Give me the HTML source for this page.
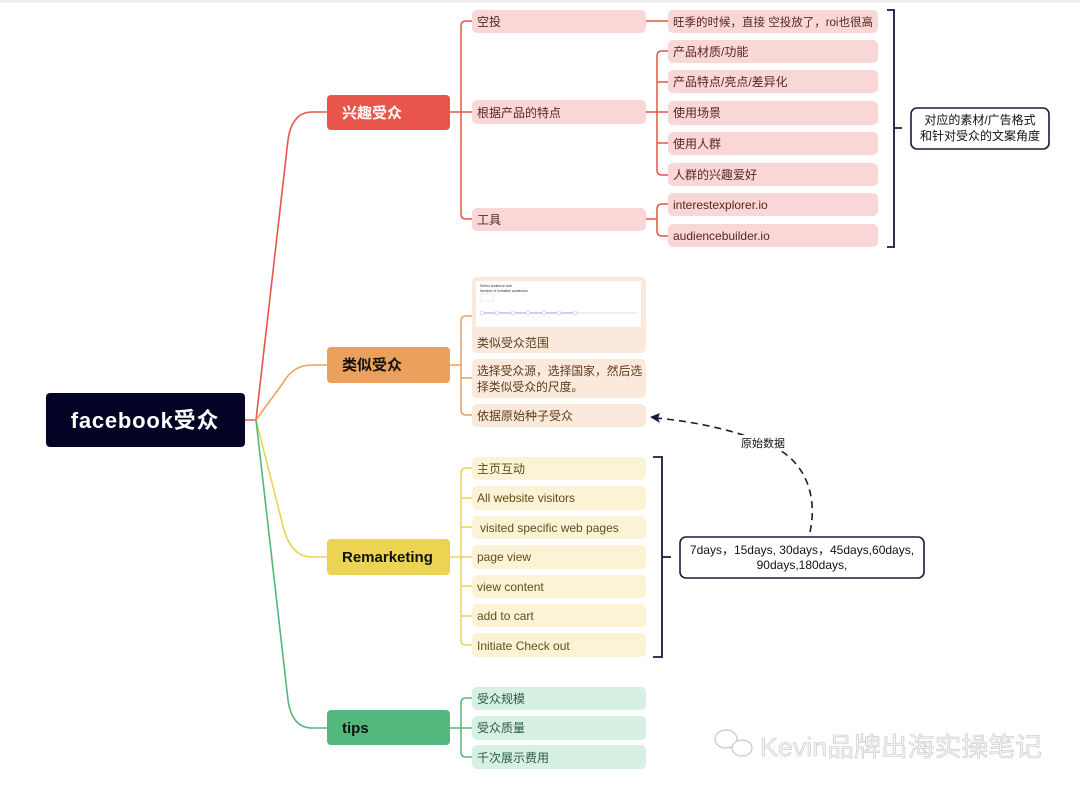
<!DOCTYPE html>
<html><head><meta charset="utf-8"><style>
html,body{margin:0;padding:0;background:#fff;}
svg{display:block;}
text{font-family:"Liberation Sans","Noto Sans CJK SC",sans-serif;}
</style></head><body>
<svg width="1080" height="794" viewBox="0 0 1080 794" xmlns="http://www.w3.org/2000/svg">
<rect x="0" y="0" width="1080" height="3" fill="#eeeeee"/>
<g fill="none" stroke-width="1.6">
<path d="M245,420 H256 L288,140 Q292,112 312,112 H327" stroke="#e8554a"/>
<path d="M256,420 L283,383 Q293,365 312,365 H327" stroke="#eba15c"/>
<path d="M256,420 L284,530 Q292,557 312,557 H327" stroke="#ecd452"/>
<path d="M256,420 L288,700 Q292,728 312,728 H327" stroke="#52b87c"/>
</g>
<rect x="46" y="393" width="199" height="54" rx="4" fill="#020325"/>
<text x="145" y="428" font-size="22" fill="#fff" text-anchor="middle" font-weight="bold" letter-spacing="0.8">facebook受众</text>
<rect x="327" y="95" width="123" height="35" rx="4" fill="#e8554a"/>
<text x="342" y="118" font-size="15" fill="#fff" font-weight="bold">兴趣受众</text>
<rect x="327" y="347" width="123" height="36" rx="4" fill="#eba15c"/>
<text x="342" y="370" font-size="15" fill="#111" font-weight="bold">类似受众</text>
<rect x="327" y="539" width="123" height="36" rx="4" fill="#ecd452"/>
<text x="342" y="562" font-size="15" fill="#111" font-weight="bold">Remarketing</text>
<rect x="327" y="710" width="123" height="35" rx="4" fill="#52b87c"/>
<text x="342" y="733" font-size="15" fill="#111" font-weight="bold">tips</text>

<g fill="none" stroke="#e8554a" stroke-width="1.5">
<path d="M450,112 H461"/>
<path d="M472,21 H466 Q461,21 461,26 V214 Q461,219 466,219 H472"/>
<path d="M461,112 H472"/>
<path d="M646,21 H668"/>
<path d="M668,51 H662 Q657,51 657,56 V170 Q657,175 662,175 H668"/>
<path d="M646,112 H668 M657,82 H668 M657,143 H668"/>
<path d="M646,219 H657 M668,204 H662 Q657,204 657,209 V231 Q657,236 662,236 H668"/>
</g>
<g fill="#f8d7d6">
<rect x="472" y="10" width="174" height="23" rx="5"/>
<rect x="472" y="100" width="174" height="24" rx="5"/>
<rect x="472" y="208" width="174" height="23" rx="5"/>
<rect x="668" y="10" width="210" height="23" rx="5"/>
<rect x="668" y="40" width="210" height="23" rx="5"/>
<rect x="668" y="70" width="210" height="23" rx="5"/>
<rect x="668" y="101" width="210" height="24" rx="5"/>
<rect x="668" y="132" width="210" height="23" rx="5"/>
<rect x="668" y="163" width="210" height="23" rx="5"/>
<rect x="668" y="193" width="210" height="23" rx="5"/>
<rect x="668" y="224" width="210" height="23" rx="5"/>
</g>
<g font-size="12" fill="#5a2424">
<text x="477" y="26">空投</text>
<text x="477" y="117">根据产品的特点</text>
<text x="477" y="224">工具</text>
<text x="673" y="26" font-size="11.5">旺季的时候，直接 空投放了，roi也很高</text>
<text x="673" y="56">产品材质/功能</text>
<text x="673" y="86">产品特点/亮点/差异化</text>
<text x="673" y="117">使用场景</text>
<text x="673" y="148">使用人群</text>
<text x="673" y="179">人群的兴趣爱好</text>
<text x="673" y="209">interestexplorer.io</text>
<text x="673" y="240">audiencebuilder.io</text>
</g>
<path d="M887,10 H894 V247 H887 M894,128 H902" fill="none" stroke="#1a1a3a" stroke-width="1.8"/>
<rect x="911" y="108" width="138" height="41" rx="6" fill="#fff" stroke="#1a1a3a" stroke-width="1.6"/>
<text x="980" y="124" font-size="12" fill="#111" text-anchor="middle">对应的素材/广告格式</text>
<text x="980" y="140" font-size="12" fill="#111" text-anchor="middle">和针对受众的文案角度</text>

<g fill="none" stroke="#eba15c" stroke-width="1.5">
<path d="M450,365 H461"/>
<path d="M472,316 H466 Q461,316 461,321 V410 Q461,415 466,415 H472"/>
<path d="M461,378 H472"/>
</g>
<g fill="#fbeadb">
<rect x="472" y="277" width="174" height="76" rx="5"/>
<rect x="472" y="359" width="174" height="39" rx="5"/>
<rect x="472" y="404" width="174" height="23" rx="5"/>
</g>
<rect x="476" y="281" width="165" height="46" fill="#fff"/>
<text x="480" y="287" font-size="3.5" fill="#333">Select audience size</text>
<text x="480" y="292" font-size="3.5" fill="#333">Number of lookalike audiences</text>
<rect x="480" y="294" width="13" height="7" fill="#fff" stroke="#ddd" stroke-width="0.5"/>
<line x1="482" y1="313" x2="575" y2="313" stroke="#8fa6e8" stroke-width="1"/>
<line x1="575" y1="313" x2="637" y2="313" stroke="#ddd" stroke-width="1"/>
<g fill="#fff" stroke="#bbb" stroke-width="0.6">
<circle cx="482" cy="313" r="2"/><circle cx="497" cy="313" r="2"/><circle cx="513" cy="313" r="2"/><circle cx="528" cy="313" r="2"/><circle cx="544" cy="313" r="2"/><circle cx="559" cy="313" r="2"/><circle cx="575" cy="313" r="2"/>
</g>
<g font-size="12" fill="#5a3a1e">
<text x="477" y="347">类似受众范围</text>
<text x="477" y="375" font-size="11.8">选择受众源，选择国家，然后选</text>
<text x="477" y="391" font-size="11.8">择类似受众的尺度。</text>
<text x="477" y="420">依据原始种子受众</text>
</g>

<path d="M810,532 C818,495 805,460 770,445 C740,432 700,422 656,418" fill="none" stroke="#1a1a3a" stroke-width="1.6" stroke-dasharray="7,5"/>
<path d="M650,417 L660,413 L658,418 L660,423 Z" fill="#1a1a3a"/>
<rect x="740" y="435" width="46" height="16" fill="#fff"/>
<text x="763" y="447" font-size="11" fill="#111" text-anchor="middle">原始数据</text>

<g fill="none" stroke="#ecd452" stroke-width="1.5">
<path d="M450,557 H461"/>
<path d="M472,468 H466 Q461,468 461,473 V640 Q461,645 466,645 H472"/>
<path d="M461,498 H472 M461,527 H472 M461,557 H472 M461,586 H472 M461,616 H472"/>
</g>
<g fill="#fcf3d6">
<rect x="472" y="457" width="174" height="23" rx="5"/>
<rect x="472" y="486" width="174" height="24" rx="5"/>
<rect x="472" y="516" width="174" height="23" rx="5"/>
<rect x="472" y="545" width="174" height="24" rx="5"/>
<rect x="472" y="575" width="174" height="23" rx="5"/>
<rect x="472" y="604" width="174" height="23" rx="5"/>
<rect x="472" y="633" width="174" height="24" rx="5"/>
</g>
<g font-size="12" fill="#5e4f1a">
<text x="477" y="473">主页互动</text>
<text x="477" y="502">All website visitors</text>
<text x="480" y="532">visited specific web pages</text>
<text x="477" y="561">page view</text>
<text x="477" y="591">view content</text>
<text x="477" y="620">add to cart</text>
<text x="477" y="650">Initiate Check out</text>
</g>
<path d="M653,457 H662 V657 H653 M662,557 H671" fill="none" stroke="#1a1a3a" stroke-width="1.8"/>
<rect x="680" y="537" width="244" height="41" rx="6" fill="#fff" stroke="#1a1a3a" stroke-width="1.6"/>
<text x="802" y="554" font-size="12" fill="#111" text-anchor="middle">7days，15days, 30days，45days,60days,</text>
<text x="802" y="569" font-size="12" fill="#111" text-anchor="middle">90days,180days,</text>

<g fill="none" stroke="#52b87c" stroke-width="1.5">
<path d="M450,728 H461"/>
<path d="M472,698 H466 Q461,698 461,703 V752 Q461,757 466,757 H472"/>
<path d="M461,728 H472"/>
</g>
<g fill="#d6f0e4">
<rect x="472" y="687" width="174" height="23" rx="5"/>
<rect x="472" y="716" width="174" height="24" rx="5"/>
<rect x="472" y="745" width="174" height="24" rx="5"/>
</g>
<g font-size="12" fill="#2c5a42">
<text x="477" y="703">受众规模</text>
<text x="477" y="732">受众质量</text>
<text x="477" y="762">千次展示费用</text>
</g>

<g fill="none" stroke="#c8c8c8" stroke-width="1.2">
<ellipse cx="726" cy="739" rx="11" ry="9"/>
<ellipse cx="742" cy="748" rx="10" ry="8" fill="#fff"/>
</g>
<text x="760" y="756" font-size="26" fill="#f4f4f4" stroke="#c8c8c8" stroke-width="0.6" textLength="282" lengthAdjust="spacingAndGlyphs">Kevin品牌出海实操笔记</text>
</svg>
</body></html>
